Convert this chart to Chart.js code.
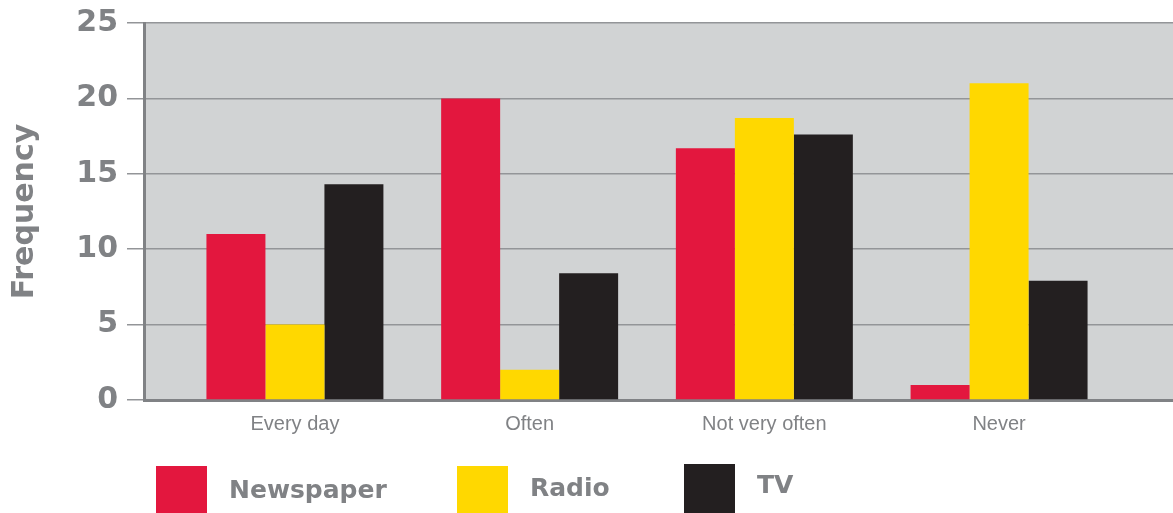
<!DOCTYPE html>
<html>
<head>
<meta charset="utf-8">
<script src="https://cdn.jsdelivr.net/npm/chart.js@4/dist/chart.umd.min.js"></script>
<style>
  html, body { margin: 0; padding: 0; background: #fff; }
  #wrap { width: 1173px; height: 513px; }
</style>
</head>
<body>
<div id="wrap"><canvas id="myChart"></canvas></div>
<script>
(() => {
  'use strict'

  const categories = ['Every day', 'Often', 'Not very often', 'Never']
  const newspaper = [11, 20, 16.7, 1]
  const radio = [5, 2, 18.7, 21]
  const tv = [14.3, 8.4, 17.6, 7.9]
  const yTicks = [0, 5, 10, 15, 20, 25]

  const grey = '#808285'
  const bold = 'DejaVu Sans'

  const toPoints = (arr) => arr.map((v, i) => ({ x: i, y: v }))

  // grey panel behind the bars
  const panel = {
    id: 'panel',
    beforeDraw(chart) {
      const { ctx, chartArea: a } = chart
      ctx.save()
      ctx.fillStyle = '#d1d3d4'
      ctx.fillRect(a.left, a.top, a.right - a.left, a.bottom - a.top)
      ctx.restore()
    }
  }

  // big square swatches under the axis
  const boxLegend = {
    id: 'boxLegend',
    afterDraw(chart, args, opts) {
      const { ctx } = chart
      ctx.save()
      ctx.font = 'bold 25px "' + bold + '"'
      ctx.textBaseline = 'middle'
      chart.data.datasets.forEach((ds, i) => {
        const it = opts.items[i]
        ctx.fillStyle = ds.backgroundColor
        ctx.fillRect(it.x, it.y, 51, 513 - it.y)
        ctx.fillStyle = grey
        ctx.fillText(ds.label, it.x + 73, it.ty)
      })
      ctx.restore()
    }
  }

  const ctx = document.getElementById('myChart')
  // eslint-disable-next-line no-unused-vars
  const myChart = new Chart(ctx, {
    type: 'bar',
    data: {
      datasets: [{
        label: 'Newspaper',
        data: toPoints(newspaper),
        backgroundColor: '#e3173e'
      }, {
        label: 'Radio',
        data: toPoints(radio),
        backgroundColor: '#ffd800'
      }, {
        label: 'TV',
        data: toPoints(tv),
        backgroundColor: '#231f20'
      }]
    },
    options: {
      responsive: true,
      maintainAspectRatio: false,
      animation: false,
      barPercentage: 1,
      categoryPercentage: 0.754,
      layout: { padding: { top: 23, left: 0, right: 0, bottom: 0 } },
      plugins: {
        legend: { display: false },
        tooltip: { enabled: false },
        boxLegend: {
          items: [
            { x: 156, y: 466, ty: 491 },
            { x: 457, y: 466, ty: 489 },
            { x: 684, y: 464, ty: 486 }
          ]
        }
      },
      scales: {
        x: {
          type: 'linear',
          min: -0.643,
          max: 3.741,
          offset: false,
          grid: { display: false, offset: false },
          border: { display: true, color: grey, width: 3 },
          ticks: {
            autoSkip: false,
            maxRotation: 0,
            padding: 4,
            color: grey,
            font: { family: 'Liberation Sans', size: 20 },
            callback: (v) => categories[v] ?? ''
          },
          afterBuildTicks: (scale) => {
            scale.ticks = categories.map((c, i) => ({ value: i }))
          },
          afterFit: (scale) => {
            scale.height = 113
            scale.paddingLeft = 0
            scale.paddingRight = 0
          }
        },
        y: {
          min: yTicks[0],
          max: yTicks[yTicks.length - 1],
          grid: { color: '#939598', lineWidth: 1.5, tickLength: 17 },
          border: { color: grey, width: 3 },
          ticks: {
            stepSize: 5,
            padding: 9,
            color: grey,
            font: { family: bold, size: 30, weight: 'bold' }
          },
          afterBuildTicks: (scale) => {
            scale.ticks = yTicks.map((v) => ({ value: v }))
          },
          title: {
            display: true,
            text: 'Frequency',
            color: grey,
            padding: { top: 7, bottom: 0 },
            font: { family: bold, size: 30, weight: 'bold' }
          },
          afterFit: (scale) => {
            scale.width = 144
            scale.paddingTop = 0
            scale.paddingBottom = 0
          }
        }
      }
    },
    plugins: [panel, boxLegend]
  })
})()
</script>
</body>
</html>
